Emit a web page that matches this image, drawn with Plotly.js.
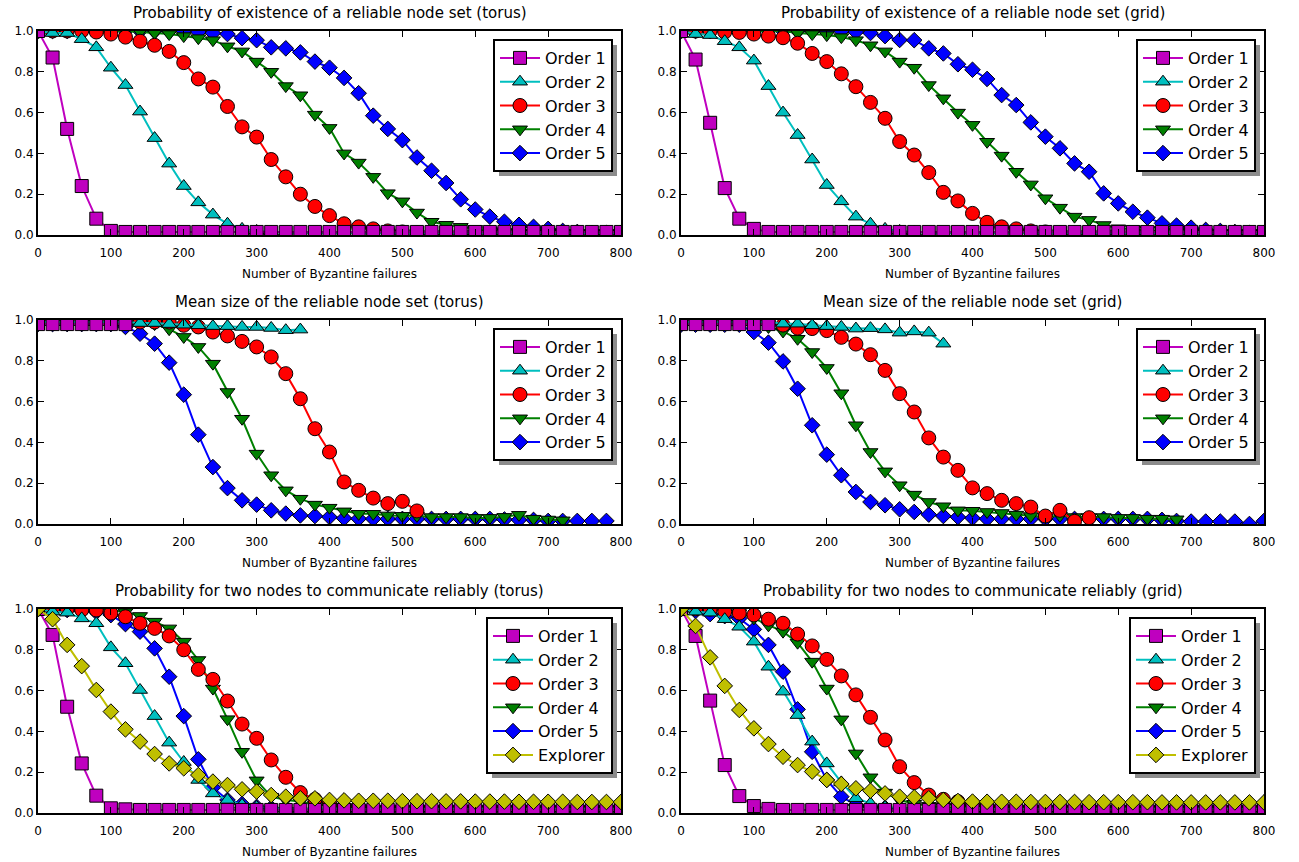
<!DOCTYPE html>
<html><head><meta charset="utf-8">
<script src="https://cdn.plot.ly/plotly-3.0.1.min.js"></script>
<style>html,body{margin:0;padding:0;background:#fff}#chart{width:1299px;height:862px}</style>
</head><body><div id="chart"></div>
<script>
// ---------- DATA ----------
const X = [0,20,40,60,80,100,120,140,160,180,
           200,220,240,260,280,300,320,340,360,380,
           400,420,440,460,480,500,520,540,560,580,
           600,620,640,660,680,700,720,740,760,780,
           800];
const XTICKS = [0,100,200,300,400,500,600,700,800];
const YTICKS = [0,0.2,0.4,0.6,0.8,1.0];
const NAMES = ['Order 1','Order 2','Order 3','Order 4','Order 5','Explorer'];

// Probability of existence of a reliable node set (torus)
const A_O1 = [1.0,0.87,0.52,0.24,0.08,0.02,0.015,0.015,0.015,0.015,
  0.015,0.015,0.015,0.015,0.015,0.015,0.015,0.015,0.015,0.015,
  0.015,0.015,0.015,0.015,0.015,0.015,0.015,0.015,0.015,0.015,
  0.015,0.015,0.015,0.015,0.015,0.015,0.015,0.015,0.015,0.015,
  0.015];
const A_O2 = [1.0,0.99,0.99,0.96,0.92,0.82,0.735,0.605,0.475,0.35,
  0.24,0.16,0.10,0.055,0.03,0.02,0.015,0.01,0.01,0.01,
  0.01,0.01,0.01,0.01,0.01,0.01,0.01,0.01,0.01,0.01,
  0.01,0.01,0.01,0.01,0.01,0.01,0.01,0.01,0.01,0.01,
  0.01];
const A_O3 = [1.0,1.0,1.0,1.0,0.995,0.985,0.97,0.95,0.93,0.9,
  0.845,0.765,0.725,0.63,0.53,0.48,0.37,0.285,0.2,0.14,
  0.095,0.055,0.04,0.03,0.02,0.015,0.01,0.01,0.01,0.01,
  0.01,0.01,0.01,0.01,0.01,0.01,0.01,0.01,0.01,0.01,
  0.01];
const A_O4 = [1.0,1.0,1.0,1.0,1.0,1.0,1.0,0.995,0.99,0.985,
  0.975,0.965,0.955,0.925,0.9,0.85,0.8,0.73,0.685,0.59,
  0.525,0.40,0.355,0.285,0.205,0.165,0.11,0.065,0.05,0.04,
  0.03,0.02,0.015,0.01,0.01,0.01,0.01,0.01,0.01,0.01,
  0.01];
const A_O5 = [1.0,1.0,1.0,1.0,1.0,1.0,1.0,1.0,1.0,1.0,
  1.0,0.995,0.99,0.985,0.965,0.955,0.92,0.915,0.895,0.85,
  0.82,0.77,0.695,0.585,0.52,0.465,0.38,0.315,0.255,0.175,
  0.125,0.09,0.065,0.05,0.04,0.03,0.02,0.015,0.01,0.01,
  0.01];

// Probability of existence of a reliable node set (grid)
const B_O1 = [1.0,0.86,0.55,0.23,0.08,0.03,0.015,0.015,0.015,0.015,
  0.015,0.015,0.015,0.015,0.015,0.015,0.015,0.015,0.015,0.015,
  0.015,0.015,0.015,0.015,0.015,0.015,0.015,0.015,0.015,0.015,
  0.015,0.015,0.015,0.015,0.015,0.015,0.015,0.015,0.015,0.015,
  0.015];
const B_O2 = [1.0,0.985,0.98,0.95,0.92,0.855,0.73,0.60,0.49,0.37,
  0.245,0.165,0.09,0.055,0.03,0.02,0.015,0.01,0.01,0.01,
  0.01,0.01,0.01,0.01,0.01,0.01,0.01,0.01,0.01,0.01,
  0.01,0.01,0.01,0.01,0.01,0.01,0.01,0.01,0.01,0.01,
  0.01];
const B_O3 = [1.0,1.0,1.0,0.995,0.993,0.985,0.975,0.967,0.94,0.89,
  0.85,0.79,0.727,0.65,0.572,0.458,0.392,0.306,0.209,0.167,
  0.106,0.062,0.04,0.03,0.02,0.015,0.01,0.01,0.01,0.01,
  0.01,0.01,0.01,0.01,0.01,0.01,0.01,0.01,0.01,0.01,
  0.01];
const B_O4 = [1.0,1.0,1.0,1.0,1.0,1.0,1.0,1.0,0.99,0.985,
  0.98,0.97,0.955,0.93,0.9,0.85,0.82,0.735,0.67,0.60,
  0.54,0.457,0.389,0.31,0.248,0.18,0.134,0.09,0.074,0.049,
  0.033,0.03,0.025,0.02,0.015,0.01,0.01,0.01,0.01,0.01,
  0.01];
const B_O5 = [1.0,1.0,1.0,1.0,1.0,1.0,1.0,1.0,1.0,1.0,
  1.0,1.0,0.995,0.99,0.975,0.956,0.955,0.915,0.89,0.837,
  0.81,0.765,0.686,0.637,0.552,0.482,0.425,0.351,0.31,0.204,
  0.155,0.114,0.085,0.057,0.046,0.036,0.025,0.02,0.015,0.01,
  0.01];

// Mean size of the reliable node set (torus)
const C_O1 = [0.98,0.98,0.98,0.98,0.98,0.98,0.98];
const C_O2 = [0.99,0.99,0.99,0.99,0.99,0.99,0.99,0.985,0.985,0.98,
  0.977,0.974,0.97,0.97,0.966,0.966,0.961,0.95,0.953];
const C_O3 = [0.99,0.99,0.99,0.99,0.99,0.99,0.99,0.99,0.99,0.99,
  0.974,0.966,0.941,0.922,0.895,0.868,0.819,0.737,0.614,0.467,
  0.353,0.206,0.165,0.127,0.10,0.111,0.064];
const C_O4 = [0.99,0.99,0.99,0.99,0.99,0.99,0.99,0.99,0.98,0.955,
  0.917,0.868,0.786,0.647,0.516,0.345,0.239,0.165,0.124,0.095,
  0.08,0.062,0.05,0.05,0.042,0.04,0.04,0.034,0.034,0.034,
  0.03,0.03,0.035,0.045,0.026,0.022,0.018];
const C_O5 = [0.98,0.98,0.98,0.98,0.98,0.98,0.966,0.933,0.884,0.791,
  0.634,0.438,0.279,0.176,0.116,0.095,0.067,0.051,0.042,0.039,
  0.034,0.028,0.026,0.025,0.025,0.025,0.025,0.025,0.025,0.025,
  0.025,0.025,0.022,0.02,0.02,0.015,0.015,0.015,0.015,0.015];

// Mean size of the reliable node set (grid)
const D_O1 = [0.98,0.98,0.98,0.98,0.98,0.98,0.98];
const D_O2 = [0.99,0.99,0.99,0.99,0.99,0.99,0.99,0.982,0.982,0.974,
  0.97,0.966,0.958,0.96,0.954,0.938,0.944,0.938,0.884];
const D_O3 = [0.99,0.99,0.99,0.99,0.99,0.99,0.99,0.975,0.96,0.958,
  0.948,0.915,0.882,0.83,0.753,0.639,0.549,0.422,0.328,0.263,
  0.177,0.149,0.116,0.10,0.083,0.039,0.067,0.013,0.031];
const D_O4 = [0.99,0.99,0.99,0.99,0.99,0.99,0.966,0.944,0.908,0.843,
  0.765,0.641,0.484,0.353,0.258,0.19,0.144,0.108,0.087,0.067,
  0.065,0.059,0.054,0.046,0.039,0.034,0.04,0.034,0.034,0.034,
  0.03,0.03,0.026,0.026,0.023];
const D_O5 = [0.977,0.977,0.977,0.977,0.977,0.941,0.889,0.797,0.663,0.484,
  0.34,0.239,0.157,0.108,0.092,0.072,0.059,0.046,0.039,0.034,
  0.029,0.025,0.025,0.025,0.025,0.025,0.025,0.025,0.025,0.025,
  0.025,0.025,0.025,0.02,0.015,0.012,0.012,0.012,0.012,0.0,
  0.015];

// Probability for two nodes to communicate reliably (torus)
const E_O1 = [1.0,0.873,0.521,0.243,0.085,0.023,0.018,0.015,0.015,0.015,
  0.015,0.015,0.015,0.015,0.015,0.015,0.015,0.015,0.015,0.015,
  0.015,0.015,0.015,0.015,0.015,0.015,0.015,0.015,0.015,0.015,
  0.015,0.015,0.015,0.015,0.015,0.015,0.015,0.015,0.015,0.015,
  0.015];
const E_O2 = [1.0,0.987,0.982,0.954,0.93,0.812,0.734,0.603,0.475,0.345,
  0.25,0.162,0.096,0.064,0.04,0.03,0.025,0.02,0.02,0.02,
  0.02,0.02,0.02,0.02,0.02,0.02,0.02,0.02,0.02,0.02,
  0.02,0.02,0.02,0.02,0.02,0.02,0.02,0.02,0.02,0.02,
  0.02];
const E_O3 = [1.0,1.0,1.0,0.995,0.995,0.98,0.962,0.93,0.905,0.868,
  0.80,0.704,0.655,0.549,0.436,0.366,0.26,0.175,0.10,0.067,
  0.047,0.03,0.025,0.02,0.02,0.02,0.02,0.02,0.02,0.02,
  0.02,0.02,0.02,0.02,0.02,0.02,0.02,0.02,0.02,0.02,
  0.02];
const E_O4 = [1.0,1.0,1.0,1.0,1.0,0.995,0.985,0.966,0.938,0.905,
  0.84,0.75,0.61,0.46,0.30,0.16,0.08,0.064,0.056,0.04,
  0.035,0.03,0.025,0.02,0.02,0.02,0.02,0.02,0.02,0.02,
  0.02,0.02,0.02,0.02,0.02,0.02,0.02,0.02,0.02,0.02,
  0.02];
const E_O5 = [1.0,1.0,0.995,0.99,0.985,0.97,0.926,0.889,0.807,0.668,
  0.475,0.263,0.125,0.064,0.044,0.03,0.025,0.02,0.02,0.02,
  0.02,0.02,0.02,0.02,0.02,0.02,0.02,0.02,0.02,0.02,
  0.02,0.02,0.02,0.02,0.02,0.02,0.02,0.02,0.02,0.02,
  0.02];
const E_EX = [1.0,0.95,0.824,0.72,0.603,0.497,0.41,0.35,0.289,0.243,
  0.219,0.186,0.154,0.137,0.116,0.105,0.088,0.08,0.072,0.072,
  0.064,0.062,0.06,0.06,0.06,0.058,0.058,0.058,0.057,0.057,
  0.056,0.056,0.056,0.055,0.055,0.055,0.055,0.054,0.054,0.054,
  0.054];

// Probability for two nodes to communicate reliably (grid)
const F_O1 = [1.0,0.868,0.551,0.235,0.083,0.034,0.02,0.015,0.015,0.015,
  0.015,0.015,0.015,0.015,0.015,0.015,0.015,0.015,0.015,0.015,
  0.015,0.015,0.015,0.015,0.015,0.015,0.015,0.015,0.015,0.015,
  0.015,0.015,0.015,0.015,0.015,0.015,0.015,0.015,0.015,0.015,
  0.015];
const F_O2 = [1.0,0.987,0.982,0.95,0.913,0.84,0.717,0.595,0.48,0.35,
  0.243,0.15,0.072,0.047,0.03,0.025,0.02,0.02,0.02,0.02,
  0.02,0.02,0.02,0.02,0.02,0.02,0.02,0.02,0.02,0.02,
  0.02,0.02,0.02,0.02,0.02,0.02,0.02,0.02,0.02,0.02,
  0.02];
const F_O3 = [1.0,1.0,1.0,0.987,0.98,0.971,0.95,0.93,0.877,0.819,
  0.753,0.672,0.579,0.469,0.358,0.227,0.149,0.088,0.067,0.056,
  0.047,0.035,0.03,0.025,0.02,0.02,0.02,0.02,0.02,0.02,
  0.02,0.02,0.02,0.02,0.02,0.02,0.02,0.02,0.02,0.02,
  0.02];
const F_O4 = [1.0,1.0,1.0,0.99,0.98,0.954,0.92,0.889,0.835,0.742,
  0.61,0.459,0.292,0.175,0.10,0.064,0.045,0.035,0.03,0.025,
  0.02,0.02,0.02,0.02,0.02,0.02,0.02,0.02,0.02,0.02,
  0.02,0.02,0.02,0.02,0.02,0.02,0.02,0.02,0.02,0.02,
  0.02];
const F_O5 = [1.0,0.99,0.975,0.965,0.954,0.9,0.824,0.693,0.508,0.30,
  0.162,0.08,0.04,0.03,0.025,0.02,0.02,0.02,0.02,0.02,
  0.02,0.02,0.02,0.02,0.02,0.02,0.02,0.02,0.02,0.02,
  0.02,0.02,0.02,0.02,0.02,0.02,0.02,0.02,0.02,0.02,
  0.02];
const F_EX = [1.0,0.917,0.763,0.623,0.505,0.415,0.338,0.276,0.235,0.203,
  0.162,0.142,0.121,0.109,0.096,0.08,0.077,0.072,0.064,0.059,
  0.056,0.055,0.055,0.055,0.054,0.054,0.054,0.054,0.053,0.053,
  0.053,0.053,0.053,0.052,0.052,0.052,0.052,0.052,0.052,0.052,
  0.052];

const TITLES = [
  'Probability of existence of a reliable node set (torus)',
  'Probability of existence of a reliable node set (grid)',
  'Mean size of the reliable node set (torus)',
  'Mean size of the reliable node set (grid)',
  'Probability for two nodes to communicate reliably (torus)',
  'Probability for two nodes to communicate reliably (grid)'
];
const XLABEL = 'Number of Byzantine failures';

// ---------- STYLE / LAYOUT ----------
const W = 1299, H = 862;
const FONT = 'DejaVu Sans, sans-serif';
const STYLE = {
  'Order 1': {color:'#bf00bf', symbol:'square', size:13},
  'Order 2': {color:'#00bfbf', symbol:'triangle-up', size:13},
  'Order 3': {color:'#ff0000', symbol:'circle', size:14},
  'Order 4': {color:'#008000', symbol:'triangle-down', size:13},
  'Order 5': {color:'#0000ff', symbol:'diamond', size:12},
  'Explorer': {color:'#bfbf00', symbol:'diamond', size:12}
};
// pixel boxes of the six axes: [left, right, top, bottom]
const BOX = [
  [38,621,31,235],[681,1264,31,235],
  [38,621,320,524],[681,1264,320,524],
  [38,621,609,813],[681,1264,609,813]
];
const TITLE_Y = [13,13,302,302,591,591];
const XLAB_Y = [274,274,563,563,852,852];

const PANELS = [
  [A_O1,A_O2,A_O3,A_O4,A_O5],
  [B_O1,B_O2,B_O3,B_O4,B_O5],
  [C_O1,C_O2,C_O3,C_O4,C_O5],
  [D_O1,D_O2,D_O3,D_O4,D_O5],
  [E_O1,E_O2,E_O3,E_O4,E_O5,E_EX],
  [F_O1,F_O2,F_O3,F_O4,F_O5,F_EX]
];

const traces = [];
const layout = {
  width: W, height: H, margin:{l:0,r:0,t:0,b:0},
  paper_bgcolor:'#fff', plot_bgcolor:'#fff',
  font:{family:FONT, color:'#000', size:12},
  annotations: [], showlegend: true
};

PANELS.forEach((series, p) => {
  const sfx = p === 0 ? '' : String(p+1);
  const legId = 'legend' + sfx;
  // draw order: Order 5 ... Order 1, then Explorer on top
  const order = [];
  for (let i = Math.min(series.length,5)-1; i >= 0; i--) order.push(i);
  if (series.length > 5) order.push(5);
  order.forEach(i => {
    const name = NAMES[i], st = STYLE[name], ys = series[i];
    traces.push({
      type:'scatter', mode:'lines+markers', name: name,
      x: X.slice(0, ys.length), y: ys,
      xaxis:'x'+sfx, yaxis:'y'+sfx, legend: legId, legendrank: i+1,
      line:{color:st.color, width:2},
      marker:{symbol:st.symbol, size:st.size, color:st.color, line:{color:'#000', width:1}},
      cliponaxis: true, hoverinfo:'skip'
    });
  });
  const b = BOX[p];
  const axCommon = {
    showline:true, linecolor:'#000', linewidth:2, mirror:'ticks',
    ticks:'inside', ticklen:6, tickwidth:1, tickcolor:'#000',
    showgrid:false, zeroline:false, fixedrange:true,
    tickfont:{family:FONT, size:12, color:'#000'}
  };
  layout['xaxis'+sfx] = Object.assign({}, axCommon, {
    domain:[b[0]/W, b[1]/W], range:[0,800], tickvals: XTICKS, anchor:'y'+sfx,
    ticklabelstandoff: 6
  });
  layout['yaxis'+sfx] = Object.assign({}, axCommon, {
    domain:[1-b[3]/H, 1-b[2]/H], range:[0,1], tickvals: YTICKS, tickformat:'.1f', anchor:'x'+sfx
  });
  layout[legId] = {
    x:(b[1]-8)/W, y:1-(b[2]+8)/H, xanchor:'right', yanchor:'top',
    xref:'paper', yref:'paper',
    bgcolor:'#fff', bordercolor:'#000', borderwidth:2,
    font:{family:FONT, size:16, color:'#000'}, itemwidth:40, tracegroupgap:0
  };
  layout.annotations.push({
    xref:'paper', yref:'paper', x:(b[0]+b[1])/2/W, y:1-TITLE_Y[p]/H,
    xanchor:'center', yanchor:'middle', showarrow:false, text:TITLES[p],
    font:{family:FONT, size:15, color:'#000'}
  });
  layout.annotations.push({
    xref:'paper', yref:'paper', x:(b[0]+b[1])/2/W, y:1-XLAB_Y[p]/H,
    xanchor:'center', yanchor:'middle', showarrow:false, text:XLABEL,
    font:{family:FONT, size:12, color:'#000'}
  });
});

Plotly.newPlot('chart', traces, layout, {staticPlot:true, displayModeBar:false}).then(gd => {
  const root = gd.getBoundingClientRect();
  const shapes = [];
  gd.querySelectorAll('.infolayer > g[class^="legend"] > rect.bg').forEach(r => {
    const bb = r.getBoundingClientRect();
    const x0 = bb.left - root.left + 5, y0 = bb.top - root.top + 5;
    shapes.push({type:'rect', xref:'paper', yref:'paper',
      x0:x0/W, x1:(x0+bb.width)/W, y0:1-y0/H, y1:1-(y0+bb.height)/H,
      fillcolor:'#8c8c8c', line:{width:0}, layer:'above'});
  });
  return Plotly.relayout(gd, {shapes: shapes});
});
</script>
</body></html>
